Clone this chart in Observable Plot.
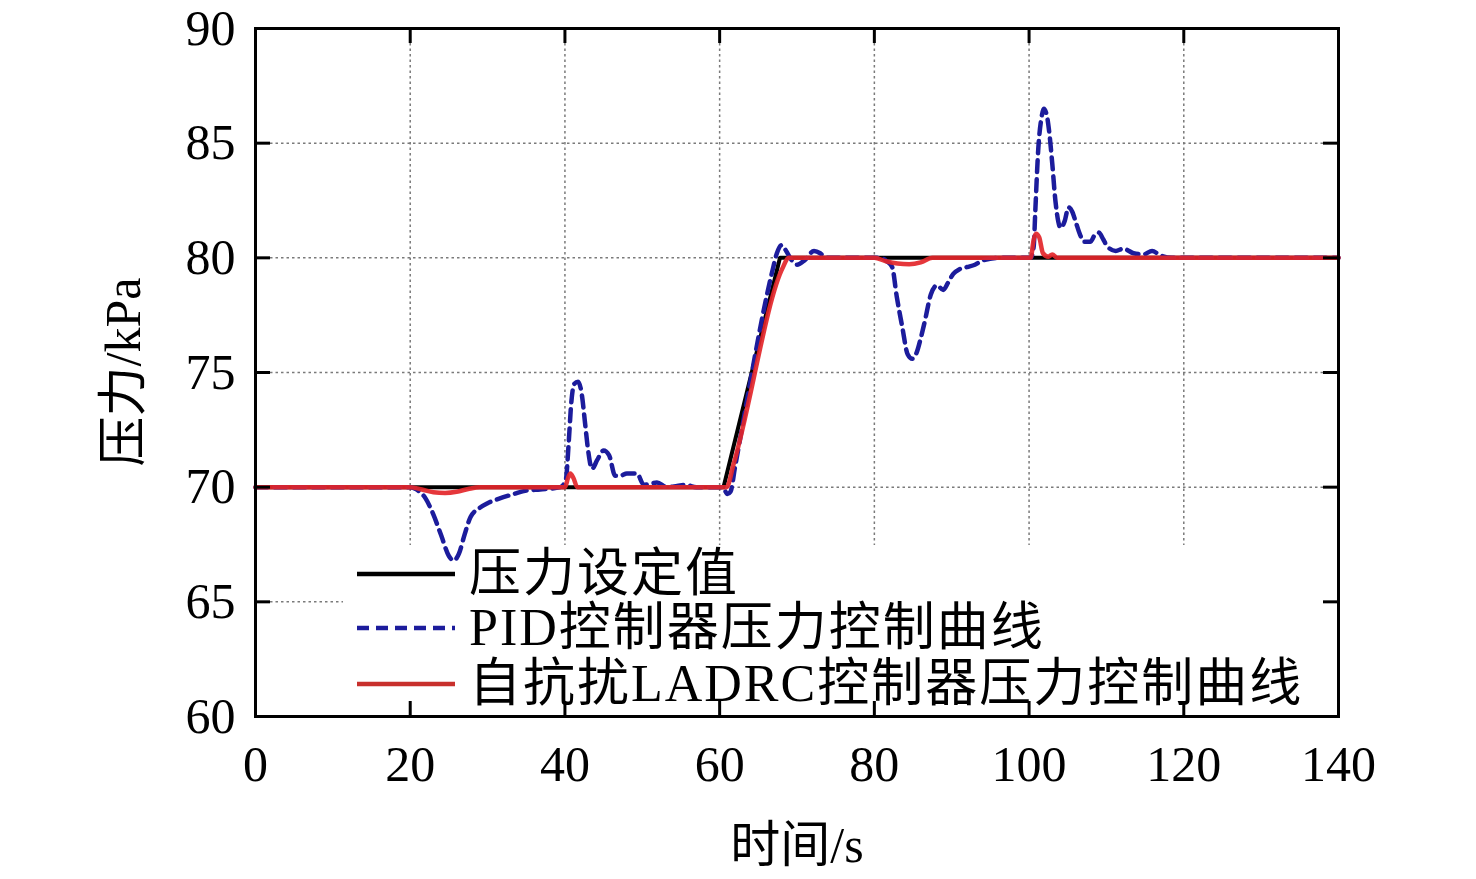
<!DOCTYPE html>
<html><head><meta charset="utf-8">
<script src="https://cdn.jsdelivr.net/npm/d3@7"></script>
<script src="https://cdn.jsdelivr.net/npm/@observablehq/plot@0.6"></script>
<style>
body{margin:0;background:#fff;}
#wrap{position:relative;width:1476px;height:879px;font-family:"Liberation Serif","Noto Sans CJK SC",serif;color:#000;}
.lab{position:absolute;font-size:50px;white-space:nowrap;line-height:1;}
.row{position:absolute;left:357px;height:52px;display:flex;align-items:center;font-size:52px;letter-spacing:2px;white-space:nowrap;line-height:1;}
.row svg{margin-right:14px;}
</style></head><body><div id="wrap"></div>
<script>
// ---- data ----
const xTicks = [0, 20, 40, 60, 80, 100, 120, 140];
const yTicks = [60, 65, 70, 75, 80, 85, 90];
const gridX = [20, 40, 60, 80, 100, 120];
const gridY = [65, 70, 75, 80, 85];

const seriesNames = ["压力设定值", "PID控制器压力控制曲线", "自抗扰LADRC控制器压力控制曲线"];

const setT = [0, 60.5, 67.8, 140];
const setV = [70, 70, 80, 80];

const pidT = [0, 20, 20.8, 22.0, 23.0, 24.0, 25.0, 25.6, 26.3, 27.0, 27.8, 29, 30, 31.5, 33.4, 35, 36.8, 39.4,
  40.1, 40.5, 40.8, 41.2, 41.7, 42.2, 42.6, 43.0, 43.5, 44.2, 45.0, 45.7, 46.5, 47.2, 48, 49.3, 50.2, 51.0, 51.9, 53.2, 54.5, 55.6, 57,
  60.4, 61.0, 61.4, 62, 66.8, 67.4, 68.0, 68.6, 69.3, 70, 71, 72.2, 73.0, 73.7, 75, 80,
  80.8, 81.6, 82.3, 82.9, 83.6, 84.3, 84.9, 85.5, 86.0, 86.5, 87.3, 88.1, 88.9, 89.5, 90.2, 91, 92, 93, 94.1, 96.3,
  100.2, 100.6, 100.8, 101.2, 101.6, 101.9, 102.3, 102.6, 103, 103.4, 104.1, 104.6, 105.1, 105.6, 106, 106.6, 107.1, 107.9,
  108.5, 109, 109.6, 110.1, 111.2, 112.2, 113.5, 114.8, 115.9, 117, 118.5, 140];
const pidV = [70, 70, 69.9, 69.5, 68.8, 67.9, 67.0, 66.8, 67.1, 67.9, 68.7, 69.1, 69.3, 69.5, 69.7, 69.85, 69.9, 70,
  70.3, 72.0, 73.6, 74.5, 74.6, 74.0, 72.8, 71.6, 70.8, 71.2, 71.6, 71.4, 70.5, 70.5, 70.6, 70.6, 70.1, 70.15, 70.2, 70.0, 70.05, 70.1, 70,
  70, 69.7, 69.8, 70.9, 79.4, 80.2, 80.55, 80.3, 79.9, 79.7, 79.9, 80.3, 80.2, 80, 80, 80,
  80, 79.85, 79.6, 78.3, 77.0, 75.8, 75.6, 75.9, 76.5, 77.2, 78.4, 78.8, 78.6, 78.9, 79.3, 79.5, 79.6, 79.7, 79.9, 80,
  80, 80.5, 82.0, 84.8, 86.1, 86.5, 86.2, 85.5, 84.1, 82.5, 81.3, 81.6, 82.2, 82.0, 81.6, 81.0, 80.7, 80.7,
  81.0, 81.1, 80.8, 80.5, 80.3, 80.4, 80.2, 80.15, 80.3, 80.1, 80.0, 80];

const adrcT = [0, 20, 21.5, 23, 24.5, 26, 27.5, 29, 40, 40.4, 40.7, 41.1, 41.6, 60.9, 61.8, 68.2, 68.9,
  80, 81.5, 83, 84.5, 86, 87.5, 100.2, 100.6, 100.9, 101.3, 101.8, 102.5, 103, 103.6, 140];
const adrcV = [70, 70, 69.9, 69.78, 69.75, 69.8, 69.92, 70, 70, 70.4, 70.6, 70.4, 70, 70, 71.0, 79.6, 80,
  80, 79.85, 79.75, 79.72, 79.8, 80, 80, 80.8, 81.05, 80.9, 80.2, 80.05, 80.15, 80, 80];

// ---- layout ----
const W = 1476, H = 879, mL = 255, mT = 28, mR = 138, mB = 163;
const pw = W - mL - mR, ph = H - mT - mB;
const TK = 15;
const colors = ["#000000", "#1c1c9c", "#e3262a"];

const toRows = (T, V) => T.map((t, i) => ({t, v: V[i]}));

const gridStyle = {stroke: "#7a7a7a", strokeWidth: 1.5, strokeDasharray: "2.5,3"};

const chart = Plot.plot({
  width: W, height: H,
  marginLeft: mL, marginTop: mT, marginRight: mR, marginBottom: mB,
  x: {domain: [0, 140], label: null},
  y: {domain: [60, 90], label: null},
  style: {fontFamily: '"Liberation Serif","Noto Sans CJK SC",serif', fontSize: "50px", background: "white", color: "black"},
  marks: [
    Plot.tickX(gridX, {x: d => d, ...gridStyle, insetTop: TK, insetBottom: 171}),
    Plot.tickY(gridY.filter(d => d > 65), {y: d => d, ...gridStyle, insetLeft: TK, insetRight: TK}),
    Plot.tickY(gridY.filter(d => d === 65), {y: d => d, ...gridStyle, insetLeft: TK, insetRight: 995}),
    Plot.line(toRows(setT, setV), {x: "t", y: "v", stroke: colors[0], strokeWidth: 4}),
    Plot.line(toRows(pidT, pidV), {x: "t", y: "v", stroke: colors[1], strokeWidth: 4.5, strokeDasharray: "12,7", curve: "monotone-x"}),
    Plot.line(toRows(adrcT, adrcV), {x: "t", y: "v", stroke: colors[2], strokeWidth: 4.5, strokeOpacity: 0.92, curve: "monotone-x"}),
    Plot.tickX(gridX, {x: d => d, stroke: "black", strokeWidth: 3, insetTop: ph - TK}),
    Plot.tickX(gridX, {x: d => d, stroke: "black", strokeWidth: 3, insetBottom: ph - TK}),
    Plot.tickY(gridY, {y: d => d, stroke: "black", strokeWidth: 3, insetRight: pw - TK}),
    Plot.tickY(gridY, {y: d => d, stroke: "black", strokeWidth: 3, insetLeft: pw - TK}),
    Plot.axisX({ticks: xTicks, tickFormat: d => String(d), tickSize: 0, tickPadding: 29, fontSize: 50, label: null}),
    Plot.axisY({ticks: yTicks, tickFormat: d => String(d), tickSize: 0, tickPadding: 20, fontSize: 50, label: null}),
    Plot.frame({stroke: "black", strokeWidth: 3})
  ]
});

const wrap = document.getElementById("wrap");
wrap.appendChild(chart);

// axis titles
const xl = document.createElement("div");
xl.className = "lab";
xl.textContent = "时间/s";
xl.style.left = "797px"; xl.style.top = "845px";
xl.style.transform = "translate(-50%,-50%)";
wrap.appendChild(xl);

const yl = document.createElement("div");
yl.className = "lab";
yl.textContent = "压力/kPa";
yl.style.left = "123px"; yl.style.top = "372px";
yl.style.transform = "translate(-50%,-50%) rotate(-90deg)";
wrap.appendChild(yl);

// legend
const rowCenters = [574, 628, 684];
const dashes = [null, "12,7", null];
seriesNames.forEach((name, i) => {
  const r = document.createElement("div");
  r.className = "row";
  r.style.top = (rowCenters[i] - 26) + "px";
  const svgNS = "http://www.w3.org/2000/svg";
  const s = document.createElementNS(svgNS, "svg");
  s.setAttribute("width", 98); s.setAttribute("height", 10);
  const ln = document.createElementNS(svgNS, "line");
  ln.setAttribute("x1", 0); ln.setAttribute("x2", 98);
  ln.setAttribute("y1", 5); ln.setAttribute("y2", 5);
  ln.setAttribute("stroke", i === 2 ? "#c8302c" : colors[i]);
  ln.setAttribute("stroke-width", 4.5);
  if (dashes[i]) ln.setAttribute("stroke-dasharray", dashes[i]);
  s.appendChild(ln);
  r.appendChild(s);
  const sp = document.createElement("span");
  sp.textContent = name;
  r.appendChild(sp);
  wrap.appendChild(r);
});
</script>
</body></html>
